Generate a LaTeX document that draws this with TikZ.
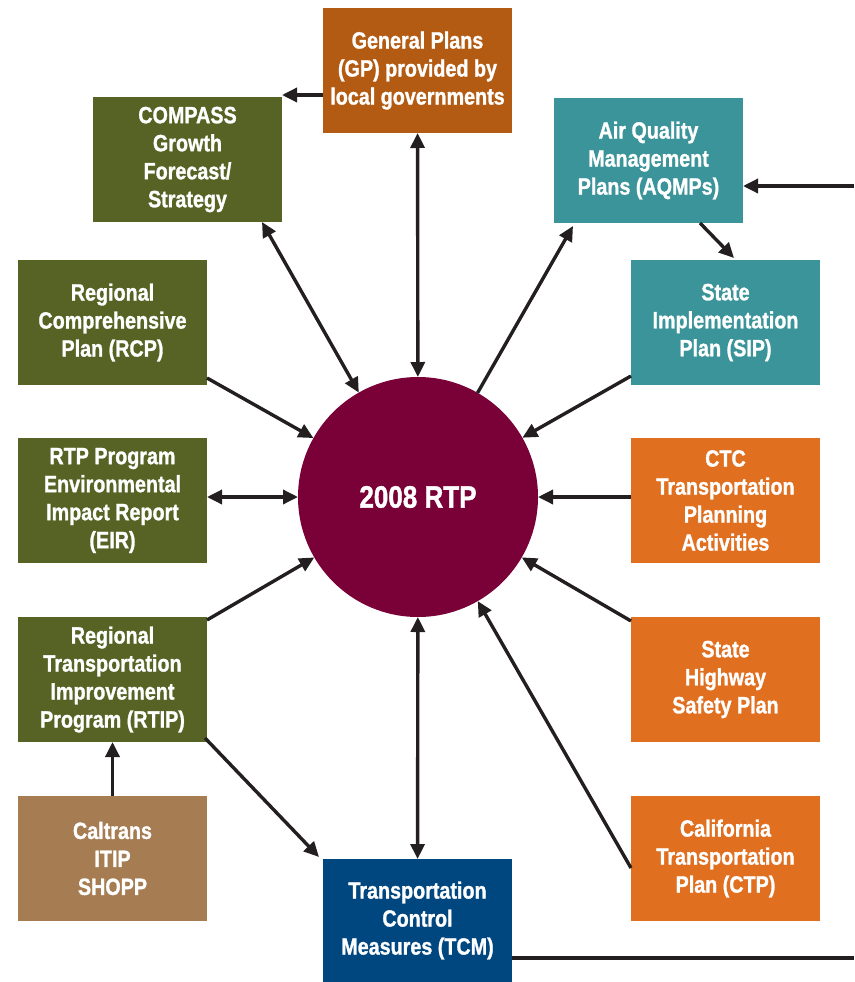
\documentclass[tikz,border=0pt]{standalone}
\usepackage{fontspec}
\setmainfont{Liberation Sans}[FakeStretch=0.84,BoldFeatures={FakeBold=1.2}]
\usepackage{tikz}
\usetikzlibrary{calc}
\usetikzlibrary{positioning}
\usetikzlibrary{arrows.meta}

\definecolor{olive}{HTML}{566324}
\definecolor{teal}{HTML}{3A9499}
\definecolor{burnt}{HTML}{B35B12}
\definecolor{orng}{HTML}{E06F20}
\definecolor{tan}{HTML}{A67C52}
\definecolor{navy}{HTML}{00467F}
\definecolor{maroon}{HTML}{7A0038}
\definecolor{ink}{HTML}{231F20}

\begin{document}
\begin{tikzpicture}[x=1pt,y=-1pt,
        plan/.style={rectangle,minimum width=189pt,minimum height=125pt,inner sep=0pt,outer sep=0pt,
            align=center,text=white,font=\bfseries\fontsize{23.5}{28}\selectfont},
        link/.style={line width=3.4pt,draw=ink},
        arr/.style={link,-{Triangle[length=15pt,width=14pt]}},
        both/.style={link,{Triangle[length=15pt,width=14pt]}-{Triangle[length=15pt,width=14pt]}}]
        \useasboundingbox (0,0) rectangle (854,982);
        \node[circle,fill=maroon,minimum size=240pt,inner sep=0pt,outer sep=0pt,text=white,
            font=\bfseries\fontsize{31}{36}\selectfont] (rtp) at (418,497) {2008 RTP};
        \node[plan,fill=burnt] (gp) at (417.5,70.5) {General Plans\\(GP) provided by\\local governments};
        \node[plan,fill=olive] (compass) at (187.5,159.5) {COMPASS\\Growth\\Forecast/\\Strategy};
        \node[plan,fill=teal] (aqmp) at (648.5,160.5) {Air Quality\\Management\\Plans (AQMPs)};
        \node[plan,fill=olive] (rcp) at (112.5,322.5) {Regional\\Comprehensive\\Plan (RCP)};
        \node[plan,fill=teal] (sip) at (725.5,322.5) {State\\Implementation\\Plan (SIP)};
        \node[plan,fill=olive] (eir) at (112.5,500.5) {RTP Program\\Environmental\\Impact Report\\(EIR)};
        \node[plan,fill=orng] (ctc) at (725.5,500.5) {CTC\\Transportation\\Planning\\Activities};
        \node[plan,fill=olive] (rtip) at (112.5,679.5) {Regional\\Transportation\\Improvement\\Program (RTIP)};
        \node[plan,fill=orng] (shsp) at (725.5,679.5) {State\\Highway\\Safety Plan};
        \node[plan,fill=tan] (caltrans) at (112.5,858.5) {Caltrans\\ITIP\\SHOPP};
        \node[plan,fill=orng] (ctp) at (725.5,858.5) {California\\Transportation\\Plan (CTP)};
        \node[plan,fill=navy,minimum height=123pt] (tcm) at (417.5,920.5) {Transportation\\Control\\Measures (TCM)};
        \coordinate (gpout) at ($(gp.south west)+(0,-38)$);
        \coordinate (aqin) at (854,186);
        \coordinate (tcmout) at (854,958);
        \draw[arr] (gpout) -- (gpout -| compass.east);
        \draw[both] (rtp) -- (gp);
        \draw[both] (rtp) -- ($(compass.south east)+(-20,0)$);
        \draw[arr] ($(rcp.south east)+(0,-7)$) -- (rtp);
        \draw[both] (rtp.west -| eir.east) -- (rtp.west);
        \draw[arr] ($(rtip.north east)+(0,3)$) -- (rtp);
        \draw[arr] ($(rtip.south east)+(-2,-4)$) -- ($(tcm.north west)+(-4,-2)$);
        \draw[arr] (caltrans.north) -- (rtip.south);
        \draw[both] (rtp) -- (tcm);
        \draw[arr] (rtp) -- ($(aqmp.south west)+(19,3)$);
        \draw[arr] ($(aqmp.south east)+(-43,0)$) -- ($(sip.north west)+(103,-2)$);
        \draw[arr] ($(sip.south west)+(0,-9)$) -- (rtp);
        \draw[arr] (rtp.east -| ctc.west) -- (rtp.east);
        \draw[arr] ($(shsp.north west)+(0,4)$) -- (rtp);
        \draw[arr] ($(ctp.west)+(0,9.5)$) -- (rtp);
        \draw[arr] (aqin) -- (aqin -| aqmp.east);
        \draw[link] (tcm.east |- tcmout) -- (tcmout);
    \end{tikzpicture}
\end{document}
